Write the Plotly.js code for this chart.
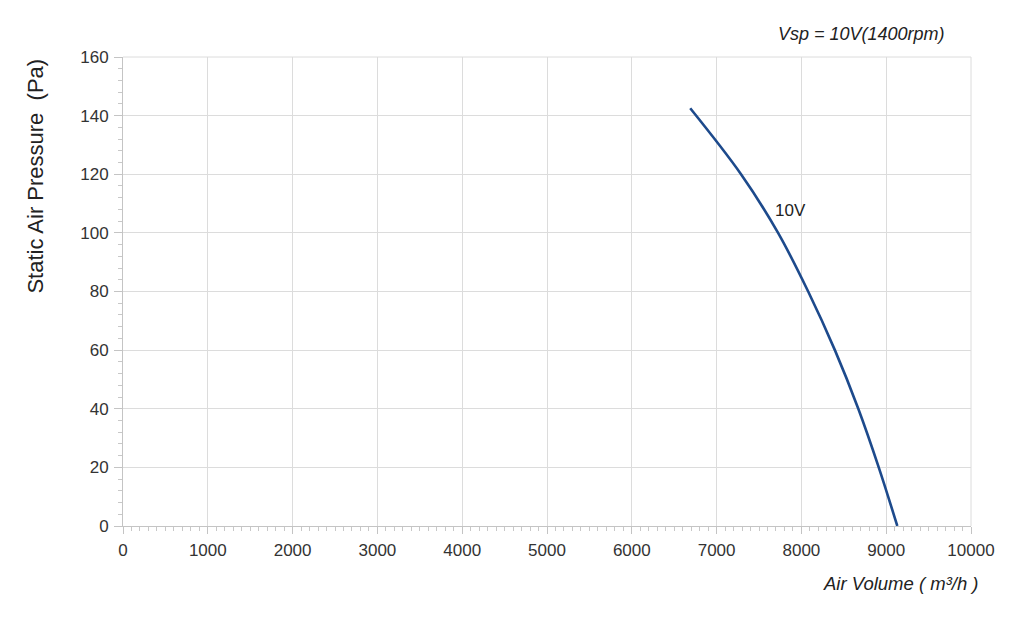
<!DOCTYPE html>
<html>
<head>
<meta charset="utf-8">
<script src="https://cdn.plot.ly/plotly-3.0.1.min.js"></script>
<style>html,body{margin:0;padding:0;background:#fff;}#chart{width:1024px;height:620px;}</style>
</head>
<body>
<div id="chart"></div>
<script>
const airVolume = [6689, 7288, 7725, 8080, 8395, 8671, 8912, 9131];
const pressure  = [142.5, 120, 100, 80, 60, 40, 20, 0];
const curveName = "10V";
const curveLabelPos = [7877, 107.8];
const xTicks = [0,1000,2000,3000,4000,5000,6000,7000,8000,9000,10000];
const yTicks = [0,20,40,60,80,100,120,140,160];

const font = "Liberation Sans, Arial, Helvetica, sans-serif";
const data = [{
  x: airVolume, y: pressure, type: 'scatter', mode: 'lines',
  line: {color: '#1d4a8c', width: 2.6, shape: 'spline', smoothing: 1},
  name: curveName, showlegend: false, hoverinfo: 'x+y'
}];
const layout = {
  width: 1024, height: 620,
  margin: {l: 123, r: 53, t: 57, b: 94},
  paper_bgcolor: '#fff', plot_bgcolor: '#fff',
  font: {family: font, color: '#333', size: 17},
  xaxis: {
    range: [0, 10000], tickvals: xTicks, ticktext: xTicks.map(String),
    showgrid: true, gridcolor: '#dcdcdc', gridwidth: 1,
    showline: true, linecolor: '#c4c4c4', linewidth: 1, mirror: false,
    ticks: 'outside', ticklen: 7, tickcolor: '#c4c4c4', ticklabelstandoff: 2,
    minor: {dtick: 100, ticks: 'outside', ticklen: 4, tickcolor: '#c8c8c8', showgrid: false},
    tickfont: {size: 17, color: '#333'}, zeroline: false, fixedrange: true
  },
  yaxis: {
    range: [0, 160], tickvals: yTicks, ticktext: yTicks.map(String),
    showgrid: true, gridcolor: '#dcdcdc', gridwidth: 1,
    showline: true, linecolor: '#c4c4c4', linewidth: 1,
    ticks: 'outside', ticklen: 8, tickcolor: '#c4c4c4', ticklabelstandoff: 2,
    minor: {dtick: 4, ticks: 'outside', ticklen: 4, tickcolor: '#c8c8c8', showgrid: false},
    tickfont: {size: 17, color: '#333'}, zeroline: false, fixedrange: true
  },
  shapes: [
    {type: 'line', xref: 'paper', yref: 'paper', x0: 0, x1: 1, y0: 1, y1: 1, line: {color: '#dcdcdc', width: 1}},
    {type: 'line', xref: 'paper', yref: 'paper', x0: 1, x1: 1, y0: 0, y1: 1, line: {color: '#dcdcdc', width: 1}}
  ],
  annotations: [
    {text: curveName, x: curveLabelPos[0], y: curveLabelPos[1], xref: 'x', yref: 'y', showarrow: false,
     font: {size: 17, color: '#222'}, xanchor: 'center', yanchor: 'middle'},
    {text: '<i>Vsp = 10V(1400rpm)</i>', xref: 'paper', yref: 'paper', x: 0.9715, y: 1.0, yshift: 23,
     xanchor: 'right', yanchor: 'middle', showarrow: false, font: {size: 18, color: '#222'}},
    {text: '<i>Air Volume ( m³/h )</i>', xref: 'paper', yref: 'paper', x: 1.0117, y: 0, yshift: -57,
     xanchor: 'right', yanchor: 'middle', showarrow: false, font: {size: 18.5, color: '#222'}},
    {text: 'Static Air Pressure  (Pa)', xref: 'paper', yref: 'paper', x: 0, xshift: -87, y: 0.745,
     xanchor: 'center', yanchor: 'middle', textangle: -90, showarrow: false, font: {size: 22, color: '#222'}}
  ]
};
Plotly.newPlot('chart', data, layout, {displayModeBar: false, staticPlot: true});
</script>
</body>
</html>
